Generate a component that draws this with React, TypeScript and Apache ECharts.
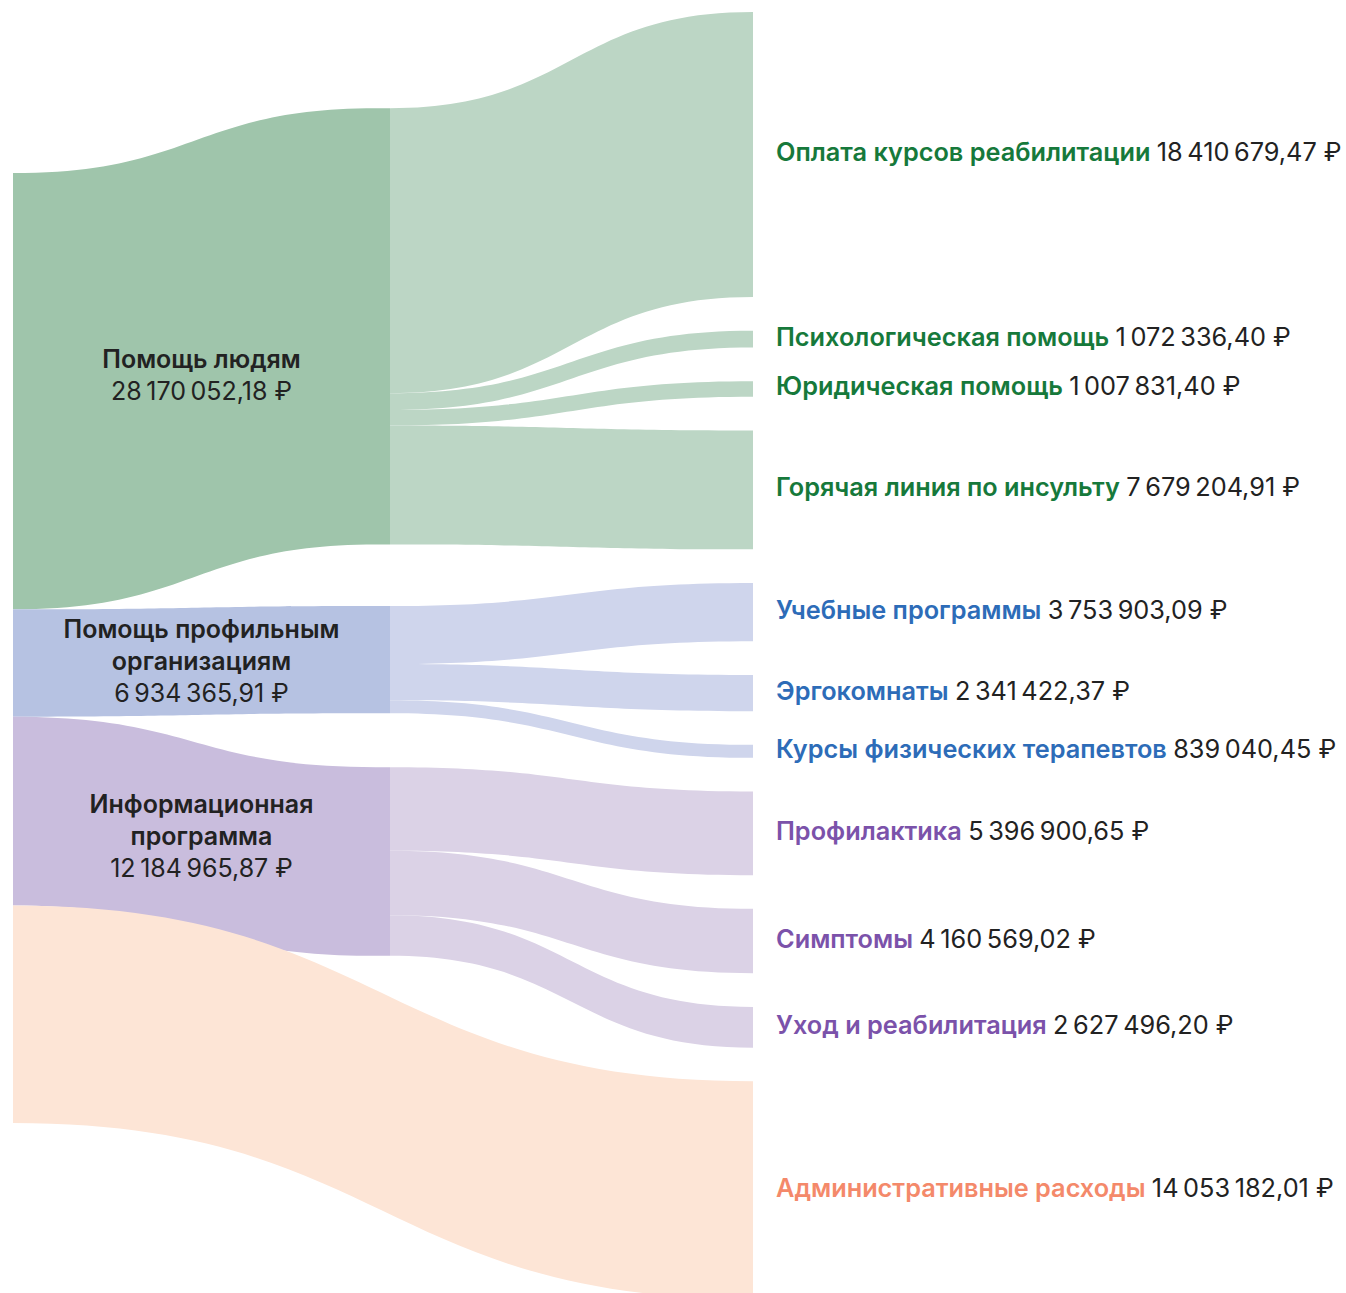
import React, { useEffect, useRef } from 'react';
import * as echarts from 'echarts';

// ---------- data ----------
const rootName = 'Все расходы';
const groupNames = ['Помощь людям', 'Помощь профильным организациям', 'Информационная программа'];
const groupTitles = ['Помощь людям', 'Помощь профильным\nорганизациям', 'Информационная\nпрограмма'];
const itemNames = [
  'Оплата курсов реабилитации',
  'Психологическая помощь',
  'Юридическая помощь',
  'Горячая линия по инсульту',
  'Учебные программы',
  'Эргокомнаты',
  'Курсы физических терапевтов',
  'Профилактика',
  'Симптомы',
  'Уход и реабилитация',
];
const itemGroup = [0, 0, 0, 0, 1, 1, 1, 2, 2, 2];
const itemValues = [
  18410679.47, 1072336.4, 1007831.4, 7679204.91, 3753903.09, 2341422.37, 839040.45, 5396900.65, 4160569.02,
  2627496.2,
];
const adminName = 'Административные расходы';
const adminValue = 14053182.01;

// ---------- styles ----------
const FONT = 'Inter, "Noto Sans", sans-serif';
const groupDark = ['#9fc5ab', '#b6c2e2', '#c9bddd'];
const groupLight = ['#bcd6c5', '#cfd5ec', '#dbd2e6'];
const groupText = ['#16793b', '#2d6cb8', '#7b52aa'];
const groupLabelShiftY = [16, 0, 0];
const adminFill = '#fde5d6';
const adminText = '#f4896a';
const valueText = '#222222';
const FS = 25;
const FS_RIGHT = 25.3;
const BOLD = 600;

// ---------- layout ----------
const TOP = 12;
const HEIGHT = 1287;
const LEFT = -1;
const WIDTH = 768;
const NODE_W = 14;
const GAP = 33.7;
const ROOT_ALIGN = 0.478;

function fmtRub(v: number): string {
  const [intPart, dec] = v.toFixed(2).split('.');
  return intPart.replace(/\B(?=(\d{3})+(?!\d))/g, '\u2009') + ',' + dec + '\u00A0₽';
}

function buildOption() {
  const groupValues = groupNames.map((_, g) =>
    itemValues.reduce((s, v, i) => (itemGroup[i] === g ? s + v : s), 0)
  );
  const rightValues = [...itemValues, adminValue];
  const total = rightValues.reduce((s, v) => s + v, 0);
  const ky = (HEIGHT - GAP * (rightValues.length - 1)) / total;
  let acc = 0;
  const rightCenters = rightValues.map((v) => {
    const h = v * ky;
    const c = acc + h / 2;
    acc += h + GAP;
    return c;
  });
  const rootTop = (HEIGHT - total * ky) * ROOT_ALIGN;
  let cursor = rootTop;
  const groupTops = groupValues.map((gv, g) => {
    const h = gv * ky;
    const portionCenter = cursor + h / 2;
    cursor += h;
    const targetCenter =
      itemValues.reduce((s, v, i) => (itemGroup[i] === g ? s + v * rightCenters[i] : s), 0) / gv;
    return (portionCenter + targetCenter) / 2 - h / 2;
  });

  const rightLabel = (name: string, value: number, color: string) => ({
    show: true,
    position: 'right',
    distance: 9,
    offset: [0, -3],
    formatter: () => `{n|${name}\u00A0}{v|${fmtRub(value)}}`,
    rich: {
      n: { color, fontWeight: BOLD, fontSize: FS_RIGHT, fontFamily: FONT },
      v: { color: valueText, fontWeight: 'normal', fontSize: FS_RIGHT, fontFamily: FONT },
    },
  });

  const nodes: any[] = [
    {
      name: rootName,
      depth: 0,
      localY: rootTop / HEIGHT,
      itemStyle: { color: 'rgba(0,0,0,0)', borderWidth: 0 },
      label: { show: false },
    },
    ...groupNames.map((name, g) => ({
      name,
      depth: 1,
      localY: groupTops[g] / HEIGHT,
      itemStyle: { color: groupDark[g], borderWidth: 0 },
      label: { show: false },
    })),
    ...itemNames.map((name, i) => ({
      name,
      depth: 2,
      itemStyle: { color: 'rgba(0,0,0,0)', borderWidth: 0 },
      label: rightLabel(name, itemValues[i], groupText[itemGroup[i]]),
    })),
    {
      name: adminName,
      depth: 2,
      itemStyle: { color: 'rgba(0,0,0,0)', borderWidth: 0 },
      label: rightLabel(adminName, adminValue, adminText),
    },
  ];

  const links: any[] = [
    ...groupNames.map((name, g) => ({
      source: rootName,
      target: name,
      value: groupValues[g],
      lineStyle: { color: groupDark[g] },
      edgeLabel: {
        show: true,
        offset: [7, groupLabelShiftY[g]],
        formatter: () => `{g|${groupTitles[g]}}\n{v|${fmtRub(groupValues[g])}}`,
        rich: {
          g: { color: valueText, fontWeight: BOLD, fontSize: FS, lineHeight: 32, fontFamily: FONT, align: 'center' },
          v: { color: valueText, fontWeight: 'normal', fontSize: FS, lineHeight: 32, fontFamily: FONT, align: 'center' },
        },
      },
    })),
    {
      source: rootName,
      target: adminName,
      value: adminValue,
      lineStyle: { color: adminFill },
    },
    ...itemNames.map((name, i) => ({
      source: groupNames[itemGroup[i]],
      target: name,
      value: itemValues[i],
      lineStyle: { color: groupLight[itemGroup[i]] },
    })),
  ];

  return {
    animation: false,
    backgroundColor: '#ffffff',
    series: [
      {
        type: 'sankey',
        left: LEFT,
        top: TOP,
        width: WIDTH,
        height: HEIGHT,
        nodeWidth: NODE_W,
        nodeGap: GAP,
        layoutIterations: 0,
        draggable: false,
        emphasis: { disabled: true },
        lineStyle: { opacity: 1, curveness: 0.5 },
        edgeLabel: { show: false },
        label: { fontFamily: FONT },
        data: nodes,
        links,
      },
    ],
  };
}

export default function App() {
  const ref = useRef<HTMLDivElement>(null);
  useEffect(() => {
    document.body.style.margin = '0';
    const chart = echarts.init(ref.current as HTMLDivElement, null, { renderer: 'svg' });
    chart.setOption(buildOption() as any);
    return () => chart.dispose();
  }, []);
  return <div ref={ref} style={{ width: 1346, height: 1293 }} />;
}
